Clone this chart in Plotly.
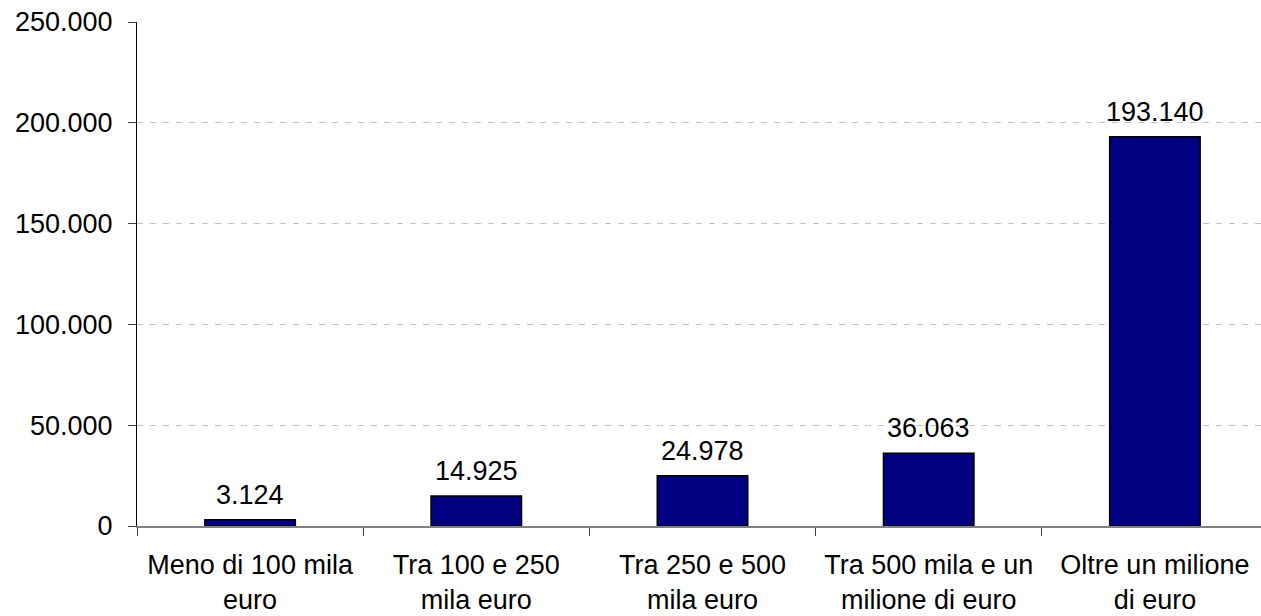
import plotly.graph_objects as go

categories = [
    "Meno di 100 mila<br>euro",
    "Tra 100 e 250<br>mila euro",
    "Tra 250 e 500<br>mila euro",
    "Tra 500 mila e un<br>milione di euro",
    "Oltre un milione<br>di euro",
]
values = [3124, 14925, 24978, 36063, 193140]
y_ticks = [0, 50000, 100000, 150000, 200000, 250000]

FONT = "Liberation Sans, Arial, sans-serif"


def fmt_it(v):
    return f"{v:,}".replace(",", ".")


fig = go.Figure(
    go.Bar(
        x=categories,
        y=values,
        width=0.4,
        marker=dict(color="#000080", line=dict(color="#000000", width=1.5)),
        hoverinfo="x+y",
    )
)

for c, v in zip(categories, values):
    fig.add_annotation(
        x=c, y=v, text=fmt_it(v), showarrow=False,
        xanchor="center", yanchor="bottom", yshift=8,
        font=dict(family=FONT, size=27, color="#000000"),
    )

fig.update_layout(
    width=1261,
    height=616,
    margin=dict(l=137, r=0, t=22, b=90, autoexpand=False),
    paper_bgcolor="white",
    plot_bgcolor="white",
    separators=",.",
    showlegend=False,
    font=dict(family=FONT, size=27, color="#000000"),
)

fig.update_xaxes(
    type="category",
    range=[-0.5, 4.469],
    automargin=False,
    showline=True,
    linecolor="#808080",
    linewidth=1.5,
    ticks="outside",
    tickson="boundaries",
    ticklen=8,
    tickcolor="#404040",
    ticklabelstandoff=14,
    tickfont=dict(family=FONT, size=27, color="#000000"),
    showgrid=False,
)

fig.update_yaxes(
    range=[0, 250000],
    tickvals=y_ticks,
    tickformat=",",
    automargin=False,
    showline=True,
    linecolor="#000000",
    linewidth=1,
    ticks="outside",
    ticklen=8,
    tickcolor="#404040",
    ticklabelstandoff=10,
    tickfont=dict(family=FONT, size=27, color="#000000"),
    showgrid=True,
    gridcolor="#c0c0c0",
    gridwidth=1,
    griddash="6px,7px",
    zeroline=False,
)

fig.write_html(
    "out.html",
    config={"displayModeBar": False},
    post_script="document.body.style.margin='0';document.body.style.overflow='hidden';",
)
